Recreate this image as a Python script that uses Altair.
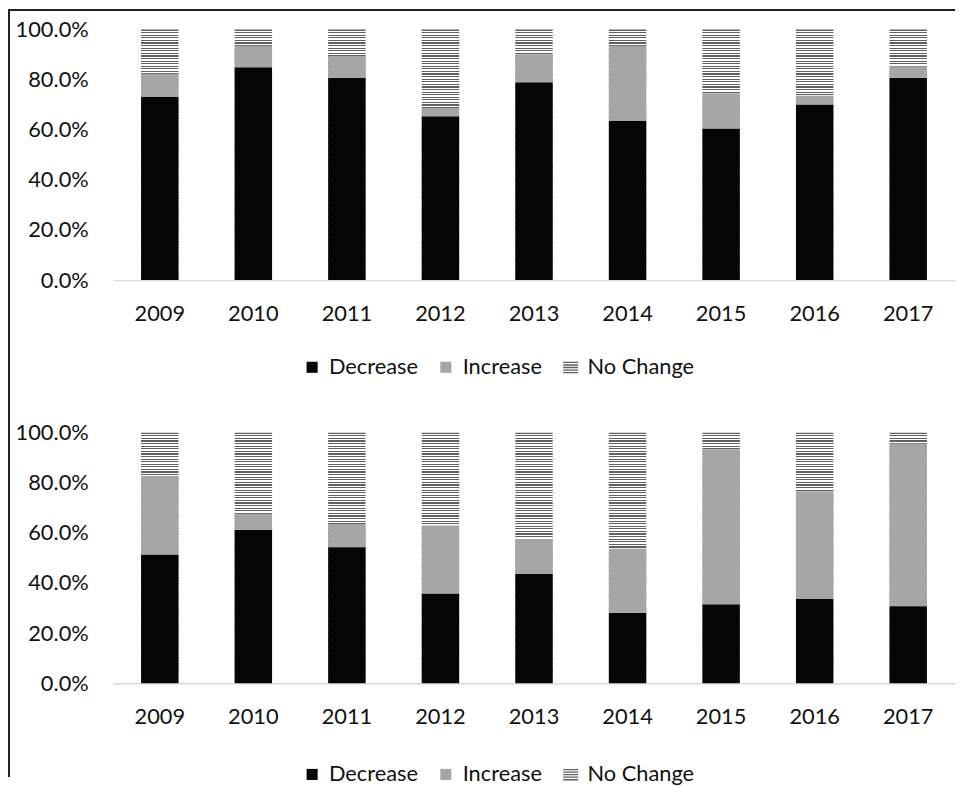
import altair as alt
import pandas as pd

years = ["2009", "2010", "2011", "2012", "2013", "2014", "2015", "2016", "2017"]
categories = ["Decrease", "Increase", "No Change"]

top_decrease = [73.1, 84.9, 80.7, 65.4, 79.0, 63.5, 60.4, 70.0, 80.7]
top_increase = [9.2, 8.6, 8.7, 3.3, 11.1, 30.0, 14.2, 3.6, 4.6]
top_nochange = [17.7, 6.5, 10.6, 31.3, 9.9, 6.5, 25.4, 26.4, 14.7]

bottom_decrease = [51.3, 61.3, 54.3, 35.7, 43.7, 28.1, 31.5, 33.6, 30.7]
bottom_increase = [31.4, 6.4, 9.3, 27.3, 13.9, 25.6, 61.9, 43.0, 65.0]
bottom_nochange = [17.3, 32.3, 36.4, 37.0, 42.4, 46.3, 6.6, 23.4, 4.3]

y_ticks = [0, 0.2, 0.4, 0.6, 0.8, 1.0]
colors = ["#050505", "#a6a6a6", "#606060"]

FONT = "Lato"
FS = 22


def make_df(dec, inc, nc):
    rows = []
    for i, yr in enumerate(years):
        for cat, vals in zip(categories, (dec, inc, nc)):
            rows.append({"year": yr, "category": cat, "value": vals[i] / 100.0})
    return pd.DataFrame(rows)


# horizontal stripe fill (style only)
N_STRIPES = 97
STRIPE = "#606060"
stops = []
for i in range(N_STRIPES):
    a = i / N_STRIPES
    b = (i + 0.45) / N_STRIPES
    c = (i + 1) / N_STRIPES
    stops += [
        {"offset": a, "color": STRIPE},
        {"offset": b, "color": STRIPE},
        {"offset": b, "color": "#ffffff"},
        {"offset": c, "color": "#ffffff"},
    ]
stripe_fill = alt.LinearGradient(gradient="linear", stops=stops, x1=0, x2=0, y1=0, y2=1)

stripe_path = ("M-1.35,-1H1.35V-0.76H-1.35Z M-1.35,-0.54H1.35V-0.3H-1.35Z "
               "M-1.35,-0.08H1.35V0.16H-1.35Z M-1.35,0.38H1.35V0.62H-1.35Z "
               "M-1.35,0.84H1.35V1.08H-1.35Z")
shapes = ["square", "square", stripe_path]

W = 850
H = 253

x_enc = alt.X("year:N", sort=years, title=None,
              scale=alt.Scale(paddingInner=0.6, paddingOuter=0.3),
              axis=alt.Axis(labelAngle=0, ticks=False, domainColor="#d9d9d9", domainWidth=1.5,
                            labelFont=FONT, labelFontSize=FS, labelColor="#111111",
                            labelPadding=24, grid=False))
y_axis = alt.Axis(format=".1%", values=y_ticks, ticks=False, domain=False, grid=False,
                  labelFont=FONT, labelFontSize=FS, labelColor="#111111", labelPadding=25)


def panel(df, legend_y, frame=False):
    base = alt.Chart(df)
    legend = alt.Legend(
        orient="none", legendX=190, legendY=legend_y, direction="horizontal", title=None,
        symbolSize=125, symbolStrokeWidth=0, symbolOpacity=1,
        labelFont=FONT, labelFontSize=FS, labelColor="#111111",
        columnPadding=17, labelOffset=6,
    )
    cscale = alt.Scale(domain=categories, range=colors)
    keys = base.mark_point(filled=True, size=4).encode(
        x=x_enc,
        y=alt.value(H - 4),
        color=alt.Color("category:N", scale=cscale, legend=legend),
        shape=alt.Shape("category:N", scale=alt.Scale(domain=categories, range=shapes), legend=legend),
    )
    stripes = base.mark_bar(fill=stripe_fill).encode(
        x=x_enc,
        y=alt.Y("sum(value):Q", title=None, scale=alt.Scale(domain=[0, 1]), axis=y_axis),
    )
    solid = base.transform_filter(
        alt.FieldOneOfPredicate(field="category", oneOf=["Decrease", "Increase"])
    ).transform_calculate(
        order="datum.category === 'Decrease' ? 0 : 1"
    ).mark_bar().encode(
        x=x_enc,
        y=alt.Y("value:Q", stack="zero", title=None, scale=alt.Scale(domain=[0, 1]), axis=y_axis),
        color=alt.Color("category:N", scale=cscale, legend=legend),
        order=alt.Order("order:Q"),
    )
    layers = [keys, stripes, solid]
    if frame:
        top_rule = alt.Chart(df).mark_rule(color="#222222", strokeWidth=1.5, strokeJoin="bevel").encode(
            x=alt.value(-105), x2=alt.value(W), y=alt.value(-20))
        left_rule = alt.Chart(df).mark_rule(color="#222222", strokeWidth=1.5, strokeJoin="bevel").encode(
            x=alt.value(-105), y=alt.value(-20), y2=alt.value(754))
        layers += [top_rule, left_rule]
    return alt.layer(*layers).properties(width=W, height=H)


top = panel(make_df(top_decrease, top_increase, top_nochange), 330, frame=True)
bottom = panel(make_df(bottom_decrease, bottom_increase, bottom_nochange), 334)

chart = alt.vconcat(top, bottom, spacing=154, bounds="flush").resolve_scale(
    color="independent", shape="independent").resolve_legend(
    color="independent", shape="independent").configure_view(
    stroke=None).properties(padding={"left": 0, "top": -3, "right": 0, "bottom": 0})

chart.save("out.html", embed_options={"renderer": "svg", "actions": False})
